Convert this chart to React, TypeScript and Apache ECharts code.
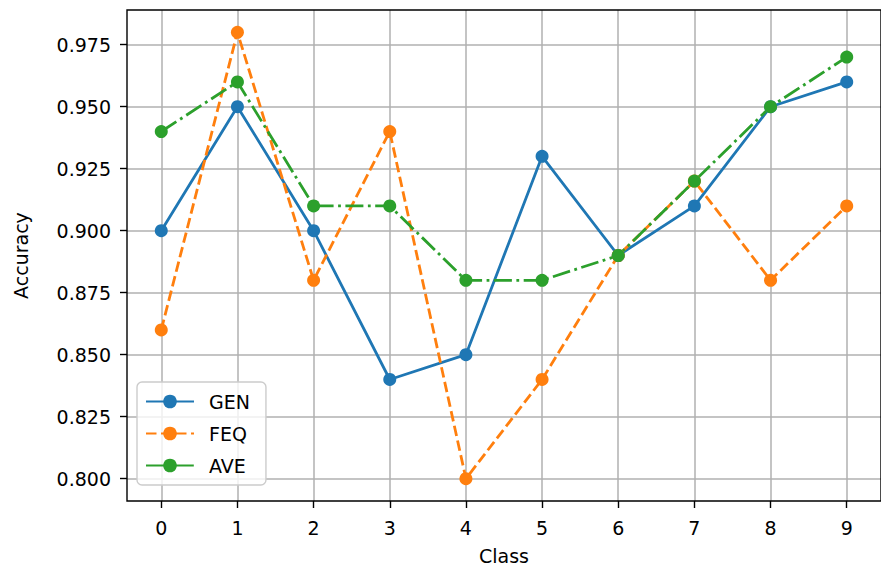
import React, { useEffect, useRef } from "react";
import * as echarts from "echarts";

const classes = [0, 1, 2, 3, 4, 5, 6, 7, 8, 9];
const genValues = [0.9, 0.95, 0.9, 0.84, 0.85, 0.93, 0.89, 0.91, 0.95, 0.96];
const feqValues = [0.86, 0.98, 0.88, 0.94, 0.8, 0.84, 0.89, 0.92, 0.88, 0.91];
const aveValues = [0.94, 0.96, 0.91, 0.91, 0.88, 0.88, 0.89, 0.92, 0.95, 0.97];
const yTicks = [0.8, 0.825, 0.85, 0.875, 0.9, 0.925, 0.95, 0.975];
const seriesNames = ["GEN", "FEQ", "AVE"];
const colors = ["#1f77b4", "#ff7f0e", "#2ca02c"];

const FONT = "DejaVu Sans";

export default function App() {
  const ref = useRef<HTMLDivElement>(null);
  useEffect(() => {
    if (!ref.current) return;
    const chart = echarts.init(ref.current, undefined, { renderer: "svg" });
    const lw = 2.8;
    const mk = (name: string, vals: number[], color: string, dash: number[] | "solid") => ({
      name,
      type: "line",
      data: classes.map((c, i) => [c, vals[i]]),
      symbol: "circle",
      symbolSize: 13,
      itemStyle: { color },
      lineStyle: { color, width: lw, type: dash, cap: "butt" },
      z: 3,
    });
    chart.setOption({
      animation: false,
      backgroundColor: "#ffffff",
      grid: {
        left: 127,
        top: 10,
        right: -1,
        bottom: 70,
        show: true,
        borderColor: "#000000",
        borderWidth: 1.4,
        backgroundColor: "transparent",
        z: 4,
      },
      legend: {
        orient: "vertical",
        left: 137,
        top: 382,
        data: seriesNames,
        itemWidth: 48,
        itemHeight: 17,
        itemGap: 13,
        padding: [10, 16, 10, 8],
        backgroundColor: "rgba(255,255,255,0.8)",
        borderColor: "#cccccc",
        borderWidth: 1.4,
        borderRadius: 5,
        textStyle: { fontFamily: FONT, fontSize: 19, color: "#000", padding: [0, 0, 0, 10] },
      },
      xAxis: {
        type: "value",
        min: -0.45,
        max: 9.45,
        name: "Class",
        nameLocation: "middle",
        nameGap: 45,
        nameTextStyle: { fontFamily: FONT, fontSize: 19, color: "#000" },
        axisLine: { show: false, onZero: false },
        axisTick: {
          show: true,
          length: 7,
          customValues: classes,
          lineStyle: { color: "#000", width: 1.4 },
        },
        axisLabel: {
          customValues: classes,
          fontFamily: FONT,
          fontSize: 19,
          color: "#000",
          margin: 17,
          formatter: (v: number) => String(Math.round(v)),
        },
        splitLine: { show: true, lineStyle: { color: "#b0b0b0", width: 1.5 } },
      },
      yAxis: {
        type: "value",
        min: 0.791,
        max: 0.989,
        name: "Accuracy",
        nameLocation: "middle",
        nameGap: 97,
        nameRotate: 90,
        nameTextStyle: { fontFamily: FONT, fontSize: 19, color: "#000" },
        axisLine: { show: false, onZero: false },
        axisTick: {
          show: true,
          length: 7,
          customValues: yTicks,
          lineStyle: { color: "#000", width: 1.4 },
        },
        axisLabel: {
          customValues: yTicks,
          fontFamily: FONT,
          fontSize: 19,
          color: "#000",
          margin: 16,
          formatter: (v: number) => v.toFixed(3),
        },
        splitLine: { show: true, lineStyle: { color: "#b0b0b0", width: 1.5 } },
      },
      series: [
        mk(seriesNames[0], genValues, colors[0], "solid"),
        mk(seriesNames[1], feqValues, colors[1], [10.5, 4.5]),
        mk(seriesNames[2], aveValues, colors[2], [18, 4.5, 2.8, 4.5]),
      ],
    });
    return () => chart.dispose();
  }, []);
  return (
    <div
      ref={ref}
      style={{ position: "fixed", left: 0, top: 0, width: 881, height: 571 }}
    />
  );
}
